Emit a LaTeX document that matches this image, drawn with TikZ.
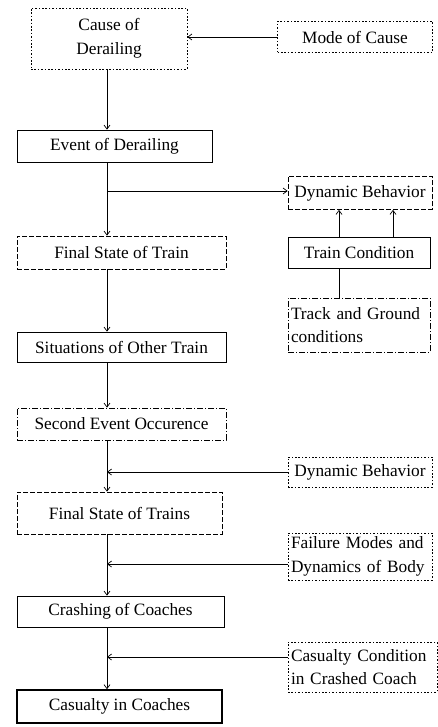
\documentclass[tikz,border=0pt]{standalone}
\usepackage{fontspec}
\setmainfont{Liberation Serif}
\usetikzlibrary{arrows.meta}
\begin{document}
\begin{tikzpicture}[x=1pt,y=-1pt,
  box/.style={draw,line width=0.7pt,rectangle,inner sep=2pt,font=\fontsize{17.3}{23.5}\selectfont,align=center},
  dotbox/.style={box,dash pattern=on 1.6pt off 1.8pt},
  dashbox/.style={box,dash pattern=on 5pt off 2pt},
  dashdotbox/.style={box,dash pattern=on 6pt off 2pt on 1pt off 2pt},
  thickbox/.style={box,line width=1.6pt},
  conn/.style={line width=0.7pt},
  arr/.style={conn,-{Straight Barb[length=4pt,width=6pt]}}]
\useasboundingbox (0,0) rectangle (438,727);
\node[dotbox,minimum width=156pt,minimum height=61pt] (cause) at (109,38.5) {Cause of\\Derailing};
\node[dotbox,minimum width=155pt,minimum height=31pt] (mode) at (355,37) {Mode of Cause};
\node[box,minimum width=195pt,minimum height=32pt] (event) at (114.5,146) {Event of Derailing};
\node[dashbox,minimum width=144pt,minimum height=33pt] (dyn1) at (360,193) {Dynamic Behavior};
\node[dashbox,minimum width=209pt,minimum height=33pt] (final1) at (121.5,252.5) {Final State of Train};
\node[box,minimum width=142pt,minimum height=31pt] (train) at (359,252.5) {Train Condition};
\node[dashdotbox,minimum width=142pt,minimum height=54pt,align=left,text width=136pt] (track) at (359,325) {Track and Ground\\conditions};
\node[box,minimum width=209pt,minimum height=30pt] (sit) at (121.5,347) {Situations of Other Train};
\node[dashdotbox,minimum width=209pt,minimum height=32pt] (second) at (121.5,424) {Second Event Occurence};
\node[dotbox,minimum width=144pt,minimum height=30pt] (dyn2) at (360,472) {Dynamic Behavior};
\node[dashbox,minimum width=205pt,minimum height=42pt] (final2) at (119.5,513) {Final State of Trains};
\node[dotbox,minimum width=144pt,minimum height=47pt,align=left,text width=138pt] (fail) at (360,556.5) {Failure Modes and\\Dynamics of Body};
\node[box,minimum width=207pt,minimum height=31pt] (crash) at (120.5,611.5) {Crashing of Coaches};
\node[dotbox,minimum width=149pt,minimum height=50pt,align=left,text width=143pt] (casc) at (362.5,667) {Casualty Condition\\in Crashed Coach};
\node[thickbox,minimum width=205pt,minimum height=33pt] (cas) at (119.5,706.5) {Casualty in Coaches};
% main spine
\coordinate (s1) at (107,0);
\draw[arr] (mode.west) -- (mode.west -| cause.east);
\draw[arr] (cause.south -| s1) -- (event.north -| s1);
\draw[arr] (event.south -| s1) -- (final1.north -| s1);
\coordinate (b1) at (107,191);
\draw[arr] (b1) -- (b1 -| dyn1.west);
\draw[arr] (train.north -| 339,0) -- (dyn1.south -| 339,0);
\draw[arr] (train.north -| 393,0) -- (dyn1.south -| 393,0);
\draw[conn] (train.south -| 339,0) -- (track.north -| 339,0);
\draw[arr] (final1.south -| s1) -- (sit.north -| s1);
\draw[arr] (sit.south -| s1) -- (second.north -| s1);
\draw[arr] (second.south -| s1) -- (final2.north -| s1);
\draw[arr] (dyn2.west) -- (dyn2.west -| s1);
\draw[arr] (final2.south -| s1) -- (crash.north -| s1);
\coordinate (f1) at (0,564);
\draw[arr] (fail.west |- f1) -- (f1 -| s1);
\draw[arr] (crash.south -| s1) -- (cas.north -| s1);
\coordinate (c1) at (0,657);
\draw[arr] (casc.west |- c1) -- (c1 -| s1);
\end{tikzpicture}
\end{document}
